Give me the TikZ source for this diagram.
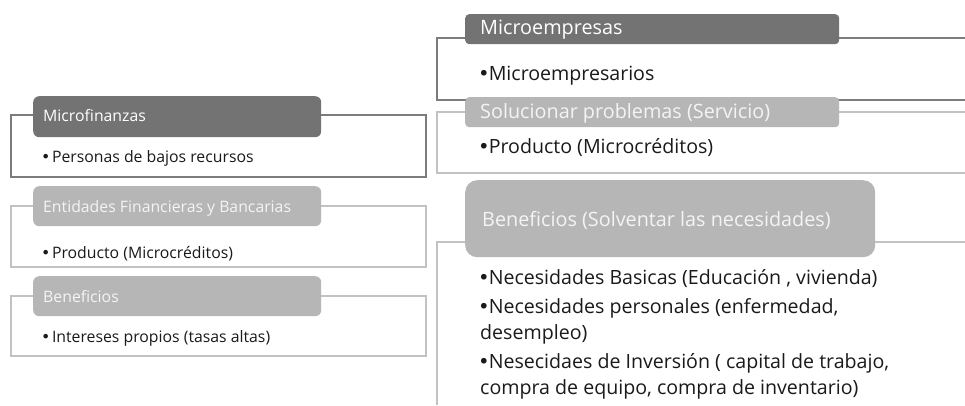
\documentclass[tikz,border=0pt]{standalone}
\usepackage{fontspec}
\setmainfont{Open Sans}
\newfontfamily\djv{DejaVu Sans}
\newcommand\bul{{\djv •}}
\definecolor{dkfill}{HTML}{737373}
\definecolor{ltfill}{HTML}{B6B6B6}
\definecolor{dkline}{HTML}{7C7C7C}
\definecolor{ltline}{HTML}{C2C2C2}
\definecolor{txt}{HTML}{1A1A1A}
\definecolor{lttxt}{HTML}{F4F4F4}
\begin{document}
\begin{tikzpicture}[x=1pt,y=-1pt,
  frameD/.style={draw=dkline,line width=1.3pt},
  frameL/.style={draw=ltline,line width=1.3pt},
  dkbox/.style={fill=dkfill,draw=none,inner sep=0pt,anchor=north west},
  ltbox/.style={fill=ltfill,draw=none,inner sep=0pt,anchor=north west},
  ltitle/.style={inner sep=0pt,anchor=mid west,font=\fontsize{15.8}{18}\selectfont},
  ltext/.style={inner sep=0pt,anchor=mid west,text=txt,font=\fontsize{15.8}{18}\selectfont},
  rtitle/.style={inner sep=0pt,anchor=mid west,font=\fontsize{19.8}{23}\selectfont},
  rtext/.style={inner sep=0pt,anchor=mid west,text=txt,font=\fontsize{19.6}{23}\selectfont}]
\useasboundingbox[fill=white] (0,0) rectangle (965,405);

% ---------- left column ----------
\coordinate (lf1a) at (11,115);  \coordinate (lf1b) at (426,177);
\coordinate (lf2a) at (11,206);  \coordinate (lf2b) at (426,267);
\coordinate (lf3a) at (11,296);  \coordinate (lf3b) at (426,356);
\draw[frameD] (lf1a) rectangle (lf1b);
\draw[frameL] (lf2a) rectangle (lf2b);
\draw[frameL] (lf3a) rectangle (lf3b);

\node[dkbox,rounded corners=6pt,minimum width=288pt,minimum height=41pt] (lb1) at (33,96) {};
\node[ltbox,rounded corners=6pt,minimum width=288pt,minimum height=40pt] (lb2) at (33,186) {};
\node[ltbox,rounded corners=6pt,minimum width=288pt,minimum height=40pt] (lb3) at (33,276) {};

\node[ltitle,text=white] (lt1) at (43,119) {Microfinanzas};
\node[ltext] (lx1) at (41,160) {\bul\hspace{1.5pt}Personas de bajos recursos};
\node[ltitle,text=lttxt] (lt2) at (43,210) {Entidades Financieras y Bancarias};
\node[ltext] (lx2) at (41,256) {\bul\hspace{1.5pt}Producto (Microcréditos)};
\node[ltitle,text=lttxt] (lt3) at (43,300) {Beneficios};
\node[ltext] (lx3) at (41,340) {\bul\hspace{1.5pt}Intereses propios (tasas altas)};

% ---------- right column ----------
\coordinate (rf1a) at (965,38);  \coordinate (rf1b) at (437,100); \coordinate (rf1c) at (965,100);
\coordinate (rf2a) at (965,112); \coordinate (rf2b) at (437,173); \coordinate (rf2c) at (965,173);
\coordinate (rf3a) at (965,242); \coordinate (rf3b) at (437,405);
\draw[frameD] (rf1a) -| (rf1b) -- (rf1c);
\draw[frameL] (rf2a) -| (rf2b) -- (rf2c);
\draw[frameL] (rf3a) -| (rf3b);

\node[dkbox,rounded corners=4pt,minimum width=374pt,minimum height=30pt] (rb1) at (465,14) {};
\node[ltbox,rounded corners=4pt,minimum width=374pt,minimum height=30pt] (rb2) at (465,97) {};
\node[ltbox,rounded corners=12pt,minimum width=410pt,minimum height=77pt] (rb3) at (465,180) {};

\node[rtitle,text=white] (rt1) at (480,32) {Microempresas};
\node[rtext] (rx1) at (478,78) {\bul\hspace{-1pt}Microempresarios};
\node[rtitle,text=lttxt] (rt2) at (480,116) {Solucionar problemas (Servicio)};
\node[rtext] (rx2) at (478,151) {\bul\hspace{-1pt}Producto (Microcréditos)};
\node[rtitle,text=lttxt] (rt3) at (482,224) {Beneficios (Solventar las necesidades)};
\node[rtext] (rx3) at (478,282) {\bul\hspace{-1pt}Necesidades Basicas (Educación , vivienda)};
\node[rtext] (rx4) at (478,311) {\bul\hspace{-1pt}Necesidades personales (enfermedad,};
\node[rtext] (rx5) at (480,337) {desempleo)};
\node[rtext] (rx6) at (478,366) {\bul\hspace{-1pt}Nesecidaes de Inversión ( capital de trabajo,};
\node[rtext] (rx7) at (480,392) {compra de equipo, compra de inventario)};
\end{tikzpicture}
\end{document}
